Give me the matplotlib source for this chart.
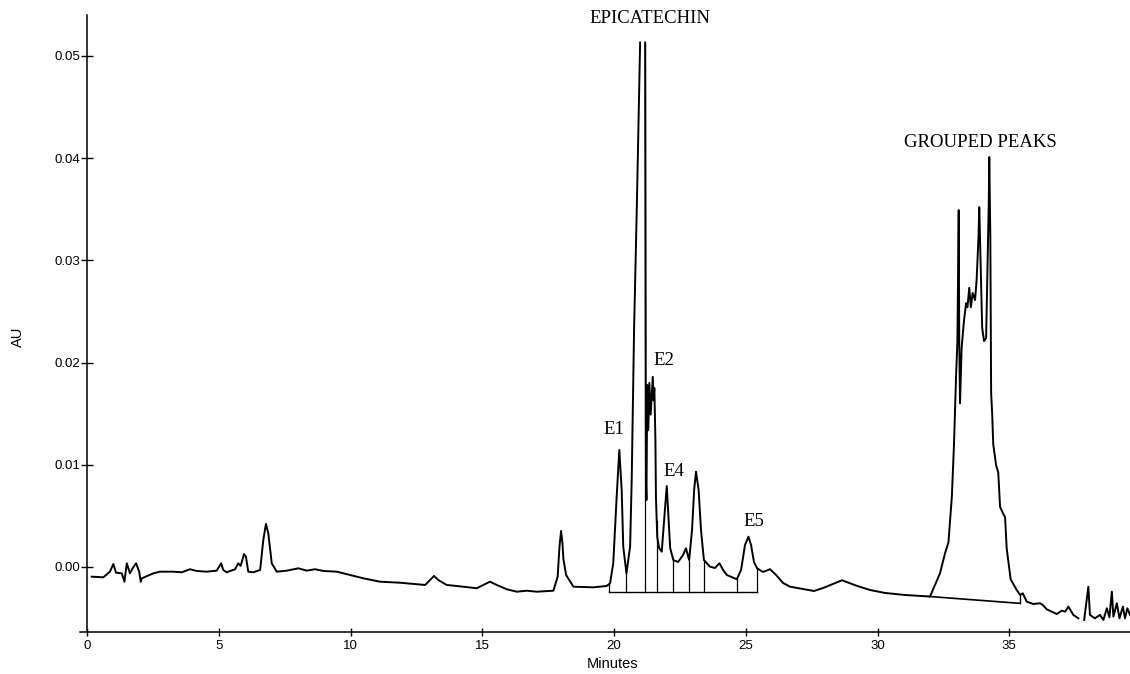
import numpy as np
import matplotlib
matplotlib.use("Agg")
from matplotlib import pyplot as plt

# retention time (minutes) and absorbance (mAU)
# nan = pen off the chart (epicatechin off scale, gap near 37.7 min)
time_min = [
    0.18, 0.62, 0.87, 1.00, 1.10, 1.32, 1.42, 1.51, 1.63, 1.73, 1.86, 1.98, 2.04, 2.08,
    2.52, 2.77, 3.28, 3.59, 3.91, 4.16, 4.54, 4.92, 5.09, 5.17, 5.30, 5.62, 5.74, 5.83,
    5.96, 6.03, 6.12, 6.31, 6.57, 6.69, 6.79, 6.88, 7.01, 7.20, 7.58, 8.02, 8.34, 8.65,
    8.97, 9.48, 9.98, 10.49, 11.12, 11.88, 12.38, 12.83, 13.02, 13.17, 13.33, 13.65,
    14.03, 14.79, 15.04, 15.29, 15.55, 15.93, 16.31, 16.69, 17.07, 17.70, 17.86, 17.93,
    17.99, 18.04, 18.08, 18.18, 18.46, 19.21, 19.72, 19.85, 19.97, 20.10, 20.20, 20.29,
    20.35, 20.47, 20.61, 20.67, 20.76, 20.87, 20.99, np.nan,
    21.18, 21.20, 21.21, 21.23, 21.26, 21.30, 21.34, 21.39, 21.43, 21.47, 21.50, 21.53,
    21.57, 21.59, 21.64, 21.71, 21.81, 21.90, 22.00, 22.07, 22.13, 22.25, 22.43, 22.62,
    22.73, 22.85, 22.96, 23.04, 23.11, 23.21, 23.30, 23.41, 23.64, 23.83, 24.00, 24.14,
    24.28, 24.66, 24.82, 24.97, 25.10, 25.20, 25.31, 25.43, 25.65, 25.92, 26.15, 26.41,
    26.68, 27.59, 27.97, 28.65, 29.22, 29.71, 30.28, 31.04, 31.99,
    32.18, 32.37, 32.56, 32.69, 32.82, 32.90, 32.98, 33.03, 33.08, 33.10, 33.13, 33.19,
    33.28, 33.36, 33.41, 33.48, 33.54, 33.61, 33.70, 33.76, 33.83, 33.86, 33.92, 33.97,
    34.04, 34.12, 34.17, 34.22, 34.24, 34.28, 34.31, 34.35, 34.39, 34.50, 34.58, 34.65,
    34.77, 34.84, 34.90, 35.05, 35.28, 35.41,
    35.51, 35.66, 35.91, 36.17, 36.27, 36.42, 36.80, 36.99, 37.12, 37.24, 37.43, 37.62,
    np.nan,
    37.84, 38.00, 38.06, 38.25, 38.44, 38.57, 38.70, 38.80, 38.89, 38.95, 39.08, 39.18,
    39.31, 39.39, 39.48, 39.58,
]
absorbance_mau = [
    -0.95, -1.01, -0.46, 0.29, -0.56, -0.62, -1.44, 0.36, -0.62, -0.13, 0.36, -0.46, -1.44, -1.11,
    -0.62, -0.46, -0.46, -0.52, -0.22, -0.39, -0.46, -0.36, 0.36, -0.29, -0.52, -0.22, 0.36, 0.10,
    1.27, 1.01, -0.46, -0.52, -0.29, 2.64, 4.21, 3.30, 0.36, -0.46, -0.36, -0.13, -0.36, -0.22,
    -0.39, -0.46, -0.78, -1.11, -1.44, -1.54, -1.66, -1.76, -1.27, -0.88, -1.27, -1.76,
    -1.86, -2.08, -1.76, -1.44, -1.76, -2.18, -2.42, -2.32, -2.42, -2.32, -0.95, 2.00,
    3.52, 2.40, 0.75, -0.78, -1.93, -1.99, -1.86, -1.59, 0.36, 6.88, 11.44, 7.53,
    1.99, -0.62, 1.99, 8.51, 23.18, 35.89, 51.3, np.nan,
    51.3, 26.2, 8.51, 6.55, 17.8, 13.4, 18.0, 14.9, 16.8, 18.6, 16.3, 17.5,
    12.4, 6.85, 2.93, 1.86, 1.50, 4.60, 7.92, 4.60, 1.86, 0.68, 0.49, 1.17,
    1.83, 0.68, 3.62, 7.53, 9.32, 7.53, 3.62, 0.68, 0.03, -0.10, 0.36, -0.29,
    -0.78, -1.20, -0.29, 2.15, 2.96, 2.15, 0.49, -0.13, -0.49, -0.22, -0.78, -1.56,
    -1.93, -2.35, -2.02, -1.30, -1.85, -2.25, -2.54, -2.74, -2.89,
    -1.76, -0.62, 1.34, 2.40, 6.89, 11.95, 18.69, 22.06, 34.9, 22.06, 16.0, 21.4,
    24.1, 25.8, 25.4, 27.3, 25.4, 26.8, 26.1, 28.1, 32.2, 35.2, 28.8, 23.4,
    22.1, 22.4, 28.8, 35.6, 40.1, 32.2, 17.0, 15.0, 12.0, 9.93, 9.25, 5.88,
    5.20, 4.87, 1.83, -1.20, -2.25, -2.74,
    -2.57, -3.39, -3.62, -3.55, -3.72, -4.14, -4.60, -4.27, -4.37, -3.88, -4.69, -5.02,
    np.nan,
    -5.18, -1.93, -4.69, -5.02, -4.69, -5.18, -4.04, -4.92, -2.42, -4.86, -3.55, -5.02,
    -3.88, -5.02, -4.04, -4.69,
]

# integration baseline under the E peaks, with its drop lines
e_base_t = [19.82, 25.43]
e_base_mau = -2.42
e_drop_t = [19.82, 20.47, 21.18, 21.62, 22.25, 22.85, 23.41, 24.66, 25.43]

# baseline under the grouped peaks
group_base_t = [31.99, 35.41]
group_base_mau = [-2.89, -3.56]

peak_names = ["EPICATECHIN", "GROUPED PEAKS", "E1", "E2", "E4", "E5"]

x_ticks = [0, 5, 10, 15, 20, 25, 30, 35]
y_ticks = [0.00, 0.01, 0.02, 0.03, 0.04, 0.05]

t = np.array(time_min)
au = np.array(absorbance_mau) / 1000.0

fig = plt.figure(figsize=(11.3, 6.74), dpi=100)
ax = fig.add_axes([80 / 1130, 42 / 674, 1050 / 1130, 617 / 674])

# the trace
ax.plot(t, au, color="black", lw=1.4, solid_joinstyle="round")

# baselines and drop lines
ok = ~np.isnan(t)
ax.plot(e_base_t, [e_base_mau / 1000.0] * 2, color="black", lw=1.0)
for td in e_drop_t:
    top = np.interp(td, t[ok], au[ok])
    ax.plot([td, td], [e_base_mau / 1000.0, top], color="black", lw=0.9)
g_base = np.array(group_base_mau) / 1000.0
ax.plot(group_base_t, g_base, color="black", lw=1.2)
g_top = np.interp(group_base_t[1], t[ok], au[ok])
ax.plot([group_base_t[1]] * 2, [g_base[1], g_top], color="black", lw=1.0)

# peak labels
label_pos = [(21.37, 0.0536), (33.89, 0.0415), (20.0, 0.0134),
             (21.90, 0.0202), (22.28, 0.0093), (25.31, 0.0044)]
for name, (lx, ly) in zip(peak_names, label_pos):
    ax.text(lx, ly, name, family="Liberation Serif", fontsize=13.5,
            ha="center", va="center")

ax.set_xlim(-0.266, 39.58)
ax.set_ylim(-0.00636, 0.05399)

for s in ["top", "right"]:
    ax.spines[s].set_visible(False)
ax.spines["left"].set_position(("data", 0))
ax.spines["left"].set_bounds(-0.0062, 0.05399)
ax.spines["left"].set_linewidth(1.1)
ax.spines["bottom"].set_linewidth(1.1)

ax.set_xticks(x_ticks)
ax.set_yticks(y_ticks)
ax.set_yticklabels(["%.2f" % v for v in y_ticks])
ax.tick_params(axis="x", direction="inout", length=6, width=1, pad=3)
ax.tick_params(axis="y", direction="inout", length=8.5, width=1, pad=0.5)
for lab in ax.get_xticklabels() + ax.get_yticklabels():
    lab.set_family("Liberation Sans")
    lab.set_fontsize(9.5)

ax.set_xlabel("Minutes", family="Liberation Sans", fontsize=10.5, va="center")
ax.set_ylabel("AU", family="Liberation Sans", fontsize=10.5, va="center")
ax.xaxis.set_label_coords(0.5076, -0.0519)
ax.yaxis.set_label_coords(-0.059, 0.478)

fig.savefig("out.png", dpi=100)
